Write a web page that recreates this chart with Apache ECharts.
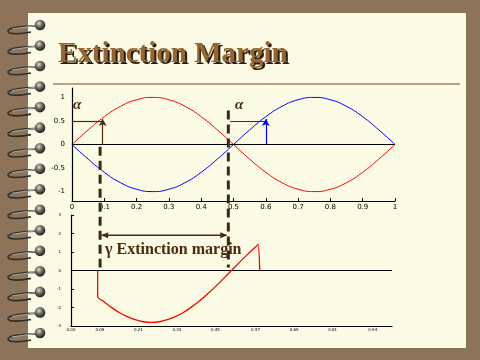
<!DOCTYPE html>
<html><head><meta charset="utf-8">
<script src="https://cdn.jsdelivr.net/npm/echarts@6/dist/echarts.min.js"></script>
<style>
html,body{margin:0;padding:0;background:#8d735a;width:480px;height:360px;overflow:hidden}
#page{position:absolute;left:28px;top:13px;width:438px;height:335px;background:#fbfae4}
#chart{position:absolute;left:0;top:0;width:480px;height:360px}
</style></head><body>
<div id="page"></div><div id="chart"></div>
<script>
// ---- data ----
const titleText = 'Extinction Margin';
const gammaText = 'γ Extinction margin';
const alphaText = 'α';

const topX      = [0,0.05,0.1,0.15,0.2,0.25,0.3,0.35,0.4,0.45,0.5,0.55,0.6,0.65,0.7,0.75,0.8,0.85,0.9,0.95,1];
const redWave   = [0,0.31,0.59,0.81,0.95,1,0.95,0.81,0.59,0.31,0,-0.31,-0.59,-0.81,-0.95,-1,-0.95,-0.81,-0.59,-0.31,0];
const blueWave  = [0,-0.31,-0.59,-0.81,-0.95,-1,-0.95,-0.81,-0.59,-0.31,0,0.31,0.59,0.81,0.95,1,0.95,0.81,0.59,0.31,0];
const topYTicks = [-1,-0.5,0,0.5,1];

const marginX = [0.083,0.083,0.1,0.125,0.15,0.175,0.2,0.225,0.25,0.275,0.3,0.325,0.35,0.375,0.4,0.425,0.45,0.475,0.5,0.525,0.55,0.575,0.583,0.588];
const marginY = [0,-1.43,-1.65,-1.98,-2.27,-2.49,-2.66,-2.77,-2.8,-2.77,-2.66,-2.49,-2.27,-1.98,-1.65,-1.27,-0.87,-0.44,0,0.44,0.87,1.27,1.42,0];
const bottomXTicks = [0,0.09,0.21,0.33,0.45,0.575,0.695,0.815,0.94];
const bottomYTicks = [-3,-2,-1,0,1,2,3];

const alphaLevel = 0.5;
const alphaRedX = 0.095, alphaBlueFrom = 0.49, alphaBlueX = 0.6;
const gammaFrom = 0.087, gammaTo = 0.484;

const BROWN = '#4a2b0b';
const chart = echarts.init(document.getElementById('chart'), null, {renderer:'canvas'});

function seg(a, b, color, endSym, w) {
  return [
    {coord:a, symbol:'none', lineStyle:{color:color, width:w||1.2, type:'solid'}},
    {coord:b, symbol:endSym||'none', symbolSize:[6,7], lineStyle:{color:color, width:w||1.2, type:'solid'}, itemStyle:{color:color}}
  ];
}

chart.setOption({
  animation:false,
  backgroundColor:'transparent',
  grid:[
    {left:72, top:88, width:323, height:113},
    {left:71, top:215, width:321, height:111}
  ],
  xAxis:[
    {gridIndex:0, type:'value', min:0, max:1, interval:0.1,
      axisLine:{onZero:false, lineStyle:{color:'#000', width:1.2}},
      axisTick:{show:true, inside:true, length:3, lineStyle:{color:'#000'}},
      axisLabel:{fontSize:7, color:'#000', margin:3, fontFamily:'DejaVu Sans'},
      splitLine:{show:false}},
    {gridIndex:1, type:'value', min:0, max:1,
      axisLine:{onZero:false, lineStyle:{color:'#000', width:1.2}},
      axisTick:{show:false},
      axisLabel:{fontSize:4, color:'#000', margin:2, fontFamily:'DejaVu Sans', customValues:bottomXTicks,
        formatter:v=>v.toFixed(2)},
      splitLine:{show:false}}
  ],
  yAxis:[
    {gridIndex:0, type:'value', min:-1.2, max:1.2,
      axisLine:{show:true, onZero:false, lineStyle:{color:'#000', width:1.2}},
      axisTick:{show:false},
      axisLabel:{fontSize:7, color:'#000', margin:7, fontFamily:'DejaVu Sans', customValues:topYTicks},
      splitLine:{show:false}},
    {gridIndex:1, type:'value', min:-3, max:3, interval:1,
      axisLine:{show:true, onZero:false, lineStyle:{color:'#000', width:1.2}},
      axisTick:{show:true, inside:true, length:3, lineStyle:{color:'#000'}},
      axisLabel:{fontSize:4, color:'#000', margin:10, fontFamily:'DejaVu Sans'},
      splitLine:{show:false}}
  ],
  series:[
    {type:'line', xAxisIndex:0, yAxisIndex:0, data:topX.map((x,i)=>[x,redWave[i]]), color:'#ff0000',
      smooth:true, symbol:'none', lineStyle:{color:'#ff0000', width:1}, z:3,
      markLine:{silent:true, animation:false, label:{show:false}, symbol:'none',
        data:[
          seg([0,0],[1,0],'#000','none',1.2),
          seg([0,alphaLevel],[alphaRedX,alphaLevel],BROWN),
          seg([alphaRedX,0],[alphaRedX,alphaLevel+0.04],BROWN,'arrow')
        ]}},
    {type:'line', xAxisIndex:0, yAxisIndex:0, data:topX.map((x,i)=>[x,blueWave[i]]), color:'#0000ff',
      smooth:true, symbol:'none', lineStyle:{color:'#0000ff', width:1}, z:3,
      markLine:{silent:true, animation:false, label:{show:false}, symbol:'none',
        data:[
          seg([alphaBlueFrom,alphaLevel],[alphaBlueX,alphaLevel],BROWN),
          seg([alphaBlueX,0],[alphaBlueX,alphaLevel+0.04],'#0000ff','arrow')
        ]}},
    {type:'line', xAxisIndex:1, yAxisIndex:1, data:marginX.map((x,i)=>[x,marginY[i]]), color:'#ff0000',
      smooth:0.2, symbol:'none', lineStyle:{color:'#ff0000', width:1.3}, z:5,
      markLine:{silent:true, animation:false, label:{show:false}, symbol:'none', z:2,
        data:[ seg([0,0],[1,0],'#000','none',1.2) ]}}
  ]
});

// ---- decorations: title, rings, dashed guides, gamma arrow ----
const g = [];
for (let k = 0; k < 16; k++) {
  const yc = 25 + k * 20.53;
  g.push({type:'bezierCurve', z:20, shape:{x1:36, y1:yc+1, cpx1:22, cpy1:yc+1, cpx2:8, cpy2:yc+3, x2:8, y2:yc+6},
    style:{fill:null, stroke:'#2e2c28', lineWidth:1.6}});
  g.push({type:'bezierCurve', z:20, shape:{x1:8, y1:yc+6, cpx1:8, cpy1:yc+10, cpx2:22, cpy2:yc+9, x2:31, y2:yc+7},
    style:{fill:null, stroke:'#2e2c28', lineWidth:1.6}});
  g.push({type:'line', z:21, shape:{x1:36, y1:yc+0.5, x2:12, y2:yc+4}, style:{stroke:'#aeb4b8', lineWidth:0.9}});
  g.push({type:'circle', z:22, shape:{cx:40, cy:yc, r:5.3},
    style:{fill:{type:'radial', x:0.4, y:0.35, r:0.7, colorStops:[{offset:0,color:'#e0dcc8'},{offset:0.45,color:'#6b6a5f'},{offset:1,color:'#151512'}]}}});
}
g.push({type:'text', z:10, left:60, top:42, style:{text:titleText, font:'bold 29px "Liberation Serif"', fill:'#2a1c0c'}});
g.push({type:'text', z:11, left:58, top:40, style:{text:titleText, font:'bold 29px "Liberation Serif"', fill:'#946633'}});
g.push({type:'line', z:10, shape:{x1:53, y1:84, x2:460, y2:84}, style:{stroke:'#a5835f', lineWidth:1.5}});
g.push({type:'text', z:10, left:73, top:98, style:{text:alphaText, font:'italic bold 15px "Liberation Serif"', fill:BROWN}});
g.push({type:'text', z:10, left:235, top:98, style:{text:alphaText, font:'italic bold 15px "Liberation Serif"', fill:BROWN}});

const px = (gi, pt) => chart.convertToPixel({gridIndex:gi}, pt);
const x1 = px(0,[gammaFrom,0])[0], x2 = px(0,[gammaTo,0])[0];
const yTop1 = px(0,[0,-0.05])[1], yTop2 = px(0,[0,0.72])[1];
const yBot = px(1,[0,0.16])[1];
const yArr = px(1,[0,1.9])[1];
const yTxt = px(1,[0,0.92])[1];
const dashStyle = {stroke:'#3b2a12', lineWidth:3, lineDash:[9,5]};
g.push({type:'line', z:12, shape:{x1:x1, y1:yTop1, x2:x1, y2:yBot}, style:dashStyle});
g.push({type:'line', z:12, shape:{x1:x2, y1:yTop2, x2:x2, y2:yBot}, style:dashStyle});
g.push({type:'line', z:12, shape:{x1:x1+2, y1:yArr, x2:x2-2, y2:yArr}, style:{stroke:BROWN, lineWidth:1.5}});
g.push({type:'polygon', z:12, shape:{points:[[x1+1,yArr],[x1+8,yArr-3],[x1+8,yArr+3]]}, style:{fill:BROWN}});
g.push({type:'polygon', z:12, shape:{points:[[x2-1,yArr],[x2-8,yArr-3],[x2-8,yArr+3]]}, style:{fill:BROWN}});
g.push({type:'text', z:12, x:x1+5, y:yTxt+4, style:{text:gammaText, font:'bold 16px "Liberation Serif"', fill:BROWN, verticalAlign:'bottom'}});

chart.setOption({graphic:g});
</script></body></html>
